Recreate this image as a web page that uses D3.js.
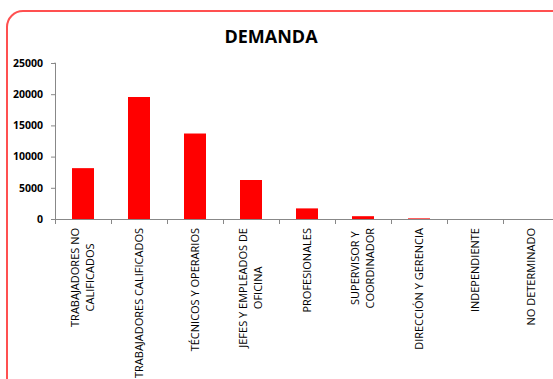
<!DOCTYPE html>
<html><head><meta charset="utf-8">
<script src="https://cdn.jsdelivr.net/npm/d3@7"></script>
<style>body{margin:0;background:#fff}svg{display:block}</style>
</head><body>
<script>
const categories = [
  ["TRABAJADORES NO","CALIFICADOS"],
  ["TRABAJADORES CALIFICADOS"],
  ["TÉCNICOS Y OPERARIOS"],
  ["JEFES Y EMPLEADOS DE","OFICINA"],
  ["PROFESIONALES"],
  ["SUPERVISOR Y","COORDINADOR"],
  ["DIRECCIÓN Y GERENCIA"],
  ["INDEPENDIENTE"],
  ["NO DETERMINADO"]
];
const values = [8150, 19550, 13700, 6250, 1700, 450, 100, 0, 0];
const yTicks = [0, 5000, 10000, 15000, 20000, 25000];
const title = "DEMANDA";

const W = 553, H = 379;
const svg = d3.select("body").append("svg").attr("width", W).attr("height", H);

svg.append("rect").attr("x", 7).attr("y", 11).attr("width", 600).attr("height", 420)
  .attr("rx", 16).attr("fill", "#fff").attr("stroke", "#ff5050").attr("stroke-width", 2);

svg.append("text").attr("x", 271).attr("y", 43).attr("text-anchor", "middle")
  .attr("font-family", "Open Sans").attr("font-weight", "bold").attr("font-size", 18)
  .attr("fill", "#000").text(title);

const x0 = 55, step = 56;
const x = d3.scaleBand().domain(d3.range(categories.length))
  .range([x0, x0 + step * categories.length]).paddingInner(0).paddingOuter(0);
const y = d3.scaleLinear().domain([0, 25000]).range([219, 63]);

svg.append("g").selectAll("rect").data(values).join("rect")
  .attr("x", (d, i) => x(i) + (step - 22) / 2)
  .attr("width", 22)
  .attr("y", d => y(d))
  .attr("height", d => y(0) - y(d))
  .attr("fill", "#ff0000");

const yAxis = svg.append("g").attr("transform", `translate(${x0},0)`)
  .call(d3.axisLeft(y).tickValues(yTicks).tickSize(4).tickPadding(8).tickFormat(d3.format("d")));
yAxis.select(".domain").attr("stroke", "#888").attr("d", `M-0.5,${y(25000)}H0.5V${y(0)}`);
yAxis.selectAll(".tick line").attr("stroke", "#888");
yAxis.selectAll("text").attr("font-family", "Open Sans").attr("font-weight", "bold")
  .attr("font-size", 10.5).attr("fill", "#000");

const gx = svg.append("g");
gx.append("line").attr("x1", x0).attr("x2", W).attr("y1", y(0) + 0.5).attr("y2", y(0) + 0.5)
  .attr("stroke", "#888");
const bounds = d3.range(categories.length + 1).map(i => x0 + i * step);
gx.selectAll("line.t").data(bounds).join("line").attr("class", "t")
  .attr("x1", d => d + 0.5).attr("x2", d => d + 0.5)
  .attr("y1", y(0)).attr("y2", y(0) + 5).attr("stroke", "#888");

const lh = 15, fs = 11, labelTop = 228;
categories.forEach((lines, i) => {
  const cx = x(i) + step / 2;
  const n = lines.length;
  const nodes = lines.map((ln, j) => {
    const off = (j - (n - 1) / 2) * lh;
    return svg.append("text")
      .attr("data-x", cx + off + 3.8)
      .attr("text-anchor", n > 1 ? "middle" : "end")
      .attr("font-family", "Open Sans").attr("font-size", fs).attr("fill", "#000")
      .text(ln).node();
  });
  const wm = n > 1 ? d3.max(nodes, t => t.getComputedTextLength()) : 0;
  nodes.forEach(t => {
    const tx = +t.getAttribute("data-x");
    t.setAttribute("transform", `translate(${tx},${labelTop + wm / 2}) rotate(-90)`);
    t.removeAttribute("data-x");
  });
});
</script>
</body></html>
